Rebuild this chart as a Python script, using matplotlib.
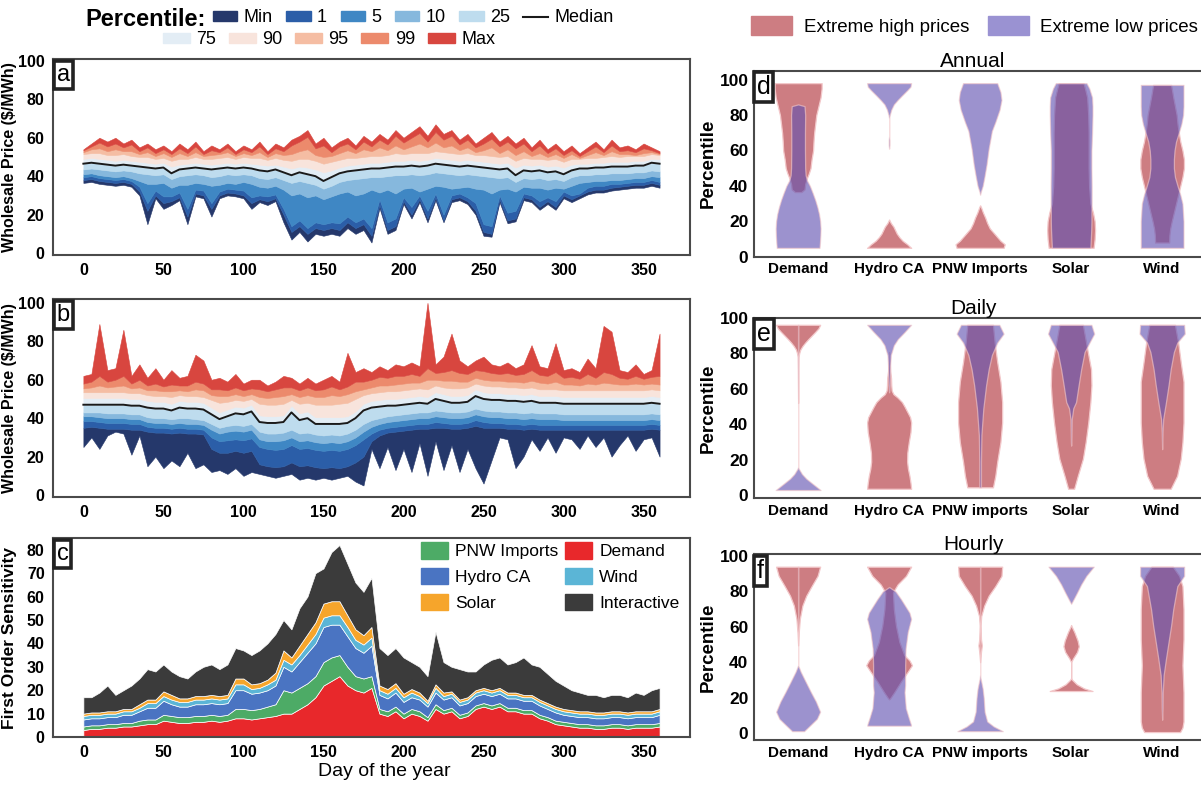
import numpy as np
import matplotlib.pyplot as plt
from matplotlib.patches import Patch
from matplotlib.lines import Line2D

SANS = ['Liberation Sans', 'DejaVu Sans']
plt.rcParams['font.family'] = SANS

# ---------------- data: daily price percentiles (sampled every 5 days) ----------------
days = np.arange(0, 361, 5)

a_max = [54, 57, 60, 58, 60, 57, 59, 55, 57, 54,
         56, 53, 57, 54, 58, 53, 56, 54, 57, 53,
         56, 54, 58, 53, 57, 55, 59, 61, 64, 57,
         60, 55, 58, 60, 56, 61, 58, 62, 59, 64,
         60, 63, 66, 61, 67, 62, 64, 59, 62, 57,
         60, 63, 58, 61, 57, 60, 55, 59, 54, 57,
         53, 56, 52, 55, 58, 54, 59, 55, 56, 54,
         57, 55, 53]
a_99 = [53.5, 55.5, 57.5, 55.5, 57, 55, 56.5, 53, 55, 52,
        54, 51.5, 54.5, 52, 55.5, 51.5, 53.5, 52.5, 55, 51.5,
        54, 52.5, 55.5, 51.5, 54.5, 53, 56, 58, 60.5, 54.5,
        56, 52.5, 55.5, 57, 54, 58, 55.5, 59, 56.5, 61,
        57.5, 60, 62.5, 58, 63, 59, 61, 56.5, 59, 55,
        57, 59.5, 55.5, 58, 54.5, 57, 53, 56, 52, 54.5,
        51, 53.5, 50.5, 53, 55.5, 52.5, 56, 53, 53.5, 52.5,
        54.5, 53.5, 52]
a_95 = [52.5, 54, 54.5, 53, 54, 53, 53, 51.5, 52.5, 50.5,
        52, 50, 52, 50.5, 52.5, 50.5, 51, 51.5, 52.5, 50.5,
        52, 51, 52.5, 50, 52, 51, 51.5, 53, 54, 51,
        50, 50.5, 52, 53.5, 52, 54, 53, 55, 53.5, 56,
        54, 55.5, 57, 55, 57.5, 55, 56, 53.5, 55, 52.5,
        53.5, 55, 52, 54, 51, 53, 50.5, 52, 50, 51.5,
        49.5, 51.5, 49.5, 51, 52.5, 51, 53, 51.5, 51.5, 51,
        52, 52.5, 51.5]
a_90 = [51.5, 52, 52, 51, 51, 51.5, 50.5, 50, 50, 49,
        49.5, 48, 49, 49, 50, 49, 49, 49.5, 50, 49,
        50, 49.5, 49.5, 48.5, 49.5, 48.5, 48, 49, 49, 48,
        46.5, 47.5, 48.5, 49.5, 49.5, 50, 50.5, 50.5, 51, 52,
        51.5, 52, 52, 52, 53, 52.5, 52, 51.5, 52, 51,
        51, 50.5, 50, 50.5, 48, 49.5, 49, 49, 48.5, 49,
        47.5, 49, 49, 49.5, 49.5, 50, 50.5, 50, 50.5, 50.5,
        50.5, 51.5, 51]
a_75 = [49, 49.5, 49, 48.5, 48, 48.5, 48, 47.5, 47, 46.5,
        47, 45, 46, 46.5, 47, 46.5, 46, 46.5, 47, 46.5,
        47, 46.5, 46, 45.5, 46, 45, 44, 45, 44.5, 43.5,
        42, 43, 44.5, 45.5, 46, 46.5, 47, 47, 47.5, 48,
        48, 48.5, 48, 48.5, 49.5, 49, 48.5, 48, 48.5, 48,
        47.5, 47, 46.5, 47, 44.5, 46, 45.5, 46, 45, 45.5,
        44.5, 46, 46.5, 46.5, 47, 47, 47.5, 47.5, 47.5, 48,
        48, 49, 49]
a_med = [46.5, 47, 46.5, 46, 45.5, 46, 45.5, 45, 44.5, 44,
         44.5, 41.5, 43.5, 44, 44.5, 44, 43.5, 44, 44.5, 44,
         44.5, 44, 43, 42.5, 43.5, 42, 40.5, 42, 41, 40,
         37.5, 39.5, 41.5, 42.5, 43, 43.5, 44, 44, 44.5, 45,
         45, 45.5, 45, 45.5, 46.5, 46, 45.5, 45, 45.5, 45,
         44.5, 44, 43.5, 44, 40.5, 43, 42.5, 43, 42, 42.5,
         41, 43, 44, 44, 44.5, 44.5, 45, 45, 45, 45.5,
         45.5, 47, 46.5]
a_25 = [43.5, 44, 43.5, 43, 42.5, 43, 42.5, 41.5, 41, 40.5,
        41, 38.5, 40, 40.5, 41, 40.5, 39.5, 40, 41, 40.5,
        41, 40.5, 39, 38.5, 39.5, 38, 36.5, 37.5, 36.5, 35.5,
        33.5, 35, 37, 38, 38.5, 39, 39.5, 39.5, 40, 40.5,
        40.5, 41, 40.5, 41, 42, 41.5, 41, 40.5, 41, 40.5,
        40, 39.5, 39, 39.5, 37, 39, 38.5, 39, 38, 38.5,
        37.5, 39.5, 40.5, 40.5, 41, 41, 41.5, 41.5, 41.5, 42,
        42, 43, 42.5]
a_10 = [41, 41.5, 40.5, 40, 39.5, 40, 39, 37.5, 36, 36,
        36.5, 34, 35.5, 35.5, 36.5, 36, 35, 35.5, 36.5, 36,
        37, 36, 34.5, 34, 35, 33, 30, 31, 29, 30,
        28, 29.5, 31, 32, 30, 31, 33, 31.5, 33, 31,
        33.5, 34, 32, 33.5, 35, 34.5, 33.5, 34, 34.5, 33.5,
        33, 31, 33, 33.5, 32, 34.5, 34, 34, 33, 34,
        33.5, 35, 36.5, 37, 37.5, 37.5, 38, 38, 38.5, 39,
        39, 40, 39.5]
a_5 = [39.5, 40, 39, 38.5, 38, 38.5, 37.5, 34.5, 26, 32.5,
       29.5, 29.5, 31.5, 23, 33, 32.5, 26, 32, 33.5, 33,
       32.5, 29, 30, 29.5, 30.5, 23, 14, 17, 13, 16,
       15, 16, 15.5, 19, 16, 18,
       13, 28, 16, 18, 29, 24, 30, 22, 31, 20, 30, 31, 29, 26,
       15, 14, 30, 21, 22, 31, 30, 27, 29, 27, 32, 30, 31,
       34, 35, 35, 36, 36, 36.5, 37, 37, 38, 37]
a_1 = [38, 38.5, 37.5, 37, 36.5, 37, 36, 32, 22, 30,
       26, 27, 29, 19, 31, 30, 23, 30, 31.5, 31,
       30, 26, 28, 27, 28.5, 20, 11, 14, 10, 13,
       12, 13, 12, 16, 13, 15,
       9, 25, 12, 14, 27, 20, 28, 18, 29, 17, 28, 29, 27, 22,
       11, 10, 28, 17, 18, 29, 28, 24, 27, 24, 30, 28, 30,
       32, 33, 33, 34, 34.5, 35, 35.5, 35.5, 36.5, 35.5]
a_min = [36.5, 37, 36, 35.5, 35, 35.5, 34.5, 30, 15, 28.5,
         23, 25, 27.5, 15, 29.5, 28.5, 19, 28.5, 30, 29.5,
         28.5, 23, 26.5, 25, 27, 16, 7, 11, 6, 10,
         9, 10, 9, 13, 10, 12,
         5.5, 23.5, 10, 12, 25.5, 18, 26.5, 16, 27.5, 16, 26.5, 27.5, 25.5, 20,
         9, 8.5, 26.5, 15.5, 16.5, 27.5, 26.5, 22.5, 25.5, 22.5, 28.5, 26.5, 28.5,
         30.5, 31.5, 31.5, 32.5, 33, 33.5, 34, 34, 35, 34]

b_max = [62, 63, 89, 65, 66, 86, 62, 68, 61, 66,
         60, 65, 61, 62, 73, 70, 60, 61, 59, 63,
         58, 60, 60, 57, 59, 62, 61, 58, 61, 58,
         60, 62, 59, 74, 64, 66, 64, 67, 65, 68,
         67, 69, 67, 100, 68, 72, 84, 70, 67, 70,
         72, 68, 67, 69, 66, 68, 78, 67, 66, 79,
         65, 66, 64, 71, 66, 88, 85, 65, 64, 68,
         63, 65, 84]
b_99 = [58, 59, 62, 59, 60, 62, 58, 60, 57, 58,
        56.5, 57.5, 57, 57, 59, 58, 55, 55, 54.5, 56,
        54.5, 55.5, 55, 54, 55, 56, 56, 54.5, 56, 54.5,
        55, 56.5, 55, 56.5, 59, 59, 60, 61.5, 61, 62,
        62, 63, 62, 66, 63.5, 64, 65, 63.5, 63, 65,
        64.5, 63.5, 63, 63.5, 62.5, 63, 65, 62.5, 62, 64,
        61, 61.5, 60.5, 63, 61, 64, 63, 61, 60.5, 62,
        60.5, 61.5, 62]
b_95 = [55.5, 56, 57, 56, 56.5, 57, 55.5, 56, 54.5, 54.5,
        54, 54, 54.5, 54, 55, 54.5, 52, 51.5, 51.5, 52.5,
        51.5, 52.5, 51, 50.5, 51, 51.5, 52.5, 51, 52, 51,
        51, 52, 51.5, 52.5, 54, 55, 56, 57, 57, 57.5,
        58, 58.5, 58.5, 60, 60, 59.5, 59.5, 59, 59, 61,
        60, 59.5, 59.5, 59, 59, 58.5, 59.5, 58.5, 58, 59,
        57.5, 57.5, 57, 58, 57.5, 58.5, 58, 57.5, 57.5, 58,
        57.5, 58, 57.5]
b_90 = [53.5, 53.5, 53.5, 53.5, 53.5, 53.5, 53, 53, 52, 51.5,
        51.5, 51, 52, 51.5, 51.5, 51, 49.5, 48, 48.5, 49.5,
        49, 50, 47.5, 47, 47, 47.5, 49.5, 47.5, 48, 47,
        47, 47, 47.5, 48, 50, 52, 53, 53.5, 54, 54,
        54.5, 55, 55.5, 55, 57, 56, 55.5, 55.5, 56, 58,
        57, 56.5, 56.5, 56, 56, 55.5, 56, 55, 55, 55,
        54.5, 54.5, 54.5, 54.5, 54.5, 54.5, 54.5, 54.5, 54.5, 54.5,
        54.5, 55, 54.5]
b_75 = [50.5, 50.5, 50.5, 50.5, 50.5, 50.5, 50, 50, 49, 48.5,
        48.5, 47.5, 49, 48.5, 48.5, 48, 45.5, 43, 44.5, 46,
        45.5, 47, 41.5, 41, 41, 41.5, 46.5, 42.5, 43.5, 40.5,
        40.5, 40.5, 40.5, 41, 43.5, 47.5, 49, 49.5, 50, 50,
        50.5, 51, 51.5, 51, 53.5, 52.5, 51.5, 51.5, 52, 55,
        53.5, 53, 53, 52.5, 52.5, 52, 52.5, 51.5, 51.5, 51.5,
        51, 51, 51, 51, 51, 51, 51, 51, 51, 51,
        51, 51.5, 51]
b_med = [47, 47, 47, 47, 47, 47, 46.5, 46.5, 45.5, 45,
         45, 44, 45.5, 45, 45, 44.5, 42, 39.5, 41, 42.5,
         42, 43.5, 38, 37.5, 37.5, 38, 43, 39, 40, 37,
         37, 37, 37, 37.5, 40, 44, 45.5, 46, 46.5, 46.5,
         47, 47.5, 48, 47.5, 50, 49, 48, 48, 48.5, 51.5,
         50, 49.5, 49.5, 49, 49, 48.5, 49, 48, 48, 48,
         47.5, 47.5, 47.5, 47.5, 47.5, 47.5, 47.5, 47.5, 47.5, 47.5,
         47.5, 48, 47.5]
b_25 = [43, 43, 43, 42.5, 42.5, 42.5, 42, 42, 40.5, 40,
        40, 39.5, 40, 40, 39.5, 39, 37, 35, 36, 36.5,
        36, 37, 33, 32, 32, 32.5, 34, 32, 32.5, 31.5,
        31, 31.5, 31, 32, 34, 37, 39, 40, 41, 41.5,
        42, 42.5, 43, 43, 44, 43.5, 43, 43, 43.5, 45,
        44, 43.5, 43.5, 43, 43, 42.5, 43, 42.5, 42.5, 42.5,
        42, 42, 42, 42, 42, 42, 42, 42, 42, 42,
        42, 42.5, 42]
b_10 = [41, 41, 40.5, 40, 40, 40, 39.5, 39.5, 38, 37.5,
        37.5, 37, 37.5, 37, 37, 36.5, 34, 32, 33, 33.5,
        33, 34, 29, 28, 28, 28.5, 30, 28, 28.5, 27.5,
        27, 27.5, 27, 28, 30, 33, 35.5, 37, 38, 38.5,
        39, 39.5, 40, 40, 41, 40.5, 40, 40, 40.5, 42,
        41, 40.5, 40.5, 40, 40, 39.5, 40, 39.5, 39.5, 39.5,
        39, 39, 39, 39, 39, 39, 39, 39, 39, 39,
        39, 39.5, 39]
b_5 = [38.5, 38.5, 38, 37.5, 37.5, 37.5, 37, 37, 35.5, 35,
       35, 34.5, 35, 34.5, 34.5, 34, 30, 28, 28.5, 29,
       28.5, 29.5, 25, 24, 23.5, 24, 26, 24, 24.5, 23.5,
       23, 23.5, 23, 24, 26, 29, 32, 34, 35, 35.5,
       36, 36.5, 37, 37, 38, 37.5, 37, 37, 37.5, 39,
       38, 37.5, 37.5, 37, 37, 36.5, 37, 36.5, 36.5, 36.5,
       36.5, 36.5, 36.5, 36.5, 36.5, 36.5, 36.5, 36.5, 36.5, 36.5,
       36.5, 37, 36.5]
b_1 = [35, 35.5, 35, 34.5, 34.5, 34.5, 34, 34, 33, 32.5,
       32.5, 32, 32.5, 32, 32, 31.5, 24, 22, 22, 23,
       22, 23, 16, 15, 14.5, 15, 17, 15, 15.5, 14.5,
       14, 14.5, 14, 15, 17, 20, 28, 31, 32.5, 33,
       33.5, 34, 34.5, 34.5, 35, 35, 34.5, 34.5, 35, 36,
       35, 35, 35, 34.5, 34.5, 34, 34.5, 34, 34, 34,
       34, 34, 34, 34, 34, 34, 34, 34, 34, 34,
       34, 34.5, 34]
b_min = [25, 30, 24, 31, 33, 32, 21, 31, 15, 20,
         14, 18, 15, 22, 14, 16, 12, 13, 11, 14,
         10, 12, 11, 10, 9, 10, 11, 8, 9, 8,
         9, 8, 9, 10, 7, 5, 24, 14, 25, 13,
         24, 12, 27, 10, 28, 13, 26, 12, 24, 14,
         6, 18, 30, 29, 14, 20, 29, 23, 30, 22,
         30, 29, 24, 31, 25, 30, 20, 26, 31, 23,
         29, 30, 20]

# first order sensitivity per driver
sens_demand = [3, 3.5, 3.5, 4, 4, 4.5, 4.5, 5, 5.5, 5.5,
               7, 6.5, 6, 6, 6.5, 6.5, 7, 6.5, 7, 8,
               8, 7.5, 8, 8.5, 9, 10, 10, 12, 14, 17,
               22, 24, 26, 22, 20, 19, 21, 10, 9, 11,
               8, 10, 9, 7, 12, 10, 11, 8, 9, 12,
               13, 12, 13, 11, 11, 10, 10, 8, 7, 5.5,
               5, 4.5, 4, 4, 3.5, 3.5, 4, 4, 3.5, 4,
               4, 4, 4.5]
sens_pnw = [1.5, 1.5, 1.5, 1.5, 1.5, 1.5, 1.5, 2, 2, 2,
            2.5, 2.5, 2.5, 2.5, 2.5, 2.5, 2.5, 2.5, 2.5, 4,
            4, 4, 4, 4.5, 5, 10, 9, 9, 9, 9,
            10, 10, 9, 8, 6, 6, 5, 2, 2, 2,
            2, 2, 2, 1.5, 2, 1.5, 1.5, 1.5, 1.5, 1.5,
            1.5, 1.5, 1.5, 1.5, 1.5, 1.5, 1.5, 1.5, 1.5, 1.5,
            1.5, 1.5, 1.5, 1.5, 1.5, 1.5, 1.5, 1.5, 1.5, 1.5,
            1.5, 1.5, 1.5]
sens_hydro = [3, 3, 3, 3, 3, 3.5, 3.5, 4, 5, 5,
              6, 5, 4.5, 4.5, 5, 5, 5, 5, 5, 8,
              8, 7, 7, 7, 8, 10, 9, 11, 13, 14,
              15, 14, 13, 13, 12, 11, 13, 6, 5.5, 6,
              5, 5, 5, 4.5, 5, 4.5, 4.5, 4, 4, 4,
              4, 4, 4, 4, 4, 4, 4, 4, 3.5, 3.5,
              3, 3, 3, 3, 3, 3, 3, 3, 3, 3,
              3, 3, 3.5]
sens_wind = [1.5, 1.5, 1.5, 1.5, 1.5, 1.5, 1.5, 1.5, 2, 2,
             2, 2, 2, 2, 2, 2, 2, 2, 2, 2.5,
             2.5, 2, 2, 2.5, 2.5, 3, 3, 3, 3.5, 4,
             4, 4, 4, 4, 3.5, 3.5, 3.5, 2, 2, 2,
             2, 2, 1.5, 1.5, 2, 1.5, 1.5, 1.5, 1.5, 1.5,
             1.5, 1.5, 1.5, 1.5, 1.5, 1.5, 1.5, 1.5, 1.5, 1.5,
             1.5, 1.5, 1.5, 1.5, 1.5, 1.5, 1.5, 1.5, 1.5, 1.5,
             1.5, 1.5, 1.5]
sens_solar = [1, 1, 1, 1, 1, 1, 1, 1.5, 1.5, 1.5,
              2, 2, 1.5, 1.5, 1.5, 1.5, 1.5, 1.5, 1.5, 2.5,
              2.5, 2, 2, 2, 3, 4, 3, 4, 4.5, 5,
              6, 6, 6, 5, 4.5, 4, 4.5, 2, 2, 2,
              1.5, 1.5, 1.5, 1, 1.5, 1.5, 1, 1, 1, 1,
              1, 1, 1, 1, 1, 1, 1, 1, 1, 1,
              1, 1, 1, 1, 1, 1, 1, 1, 1, 1,
              1, 1, 1]
sens_interactive = [7, 6.5, 8.5, 11, 7, 8, 10, 11, 13, 12,
                    11.5, 10, 9.5, 8.5, 10.5, 12.5, 13, 11.5, 13, 13,
                    12, 12.5, 14, 15.5, 16.5, 13, 12, 16, 16, 21,
                    15, 21, 24, 22, 20, 18.5, 21, 16, 14.5, 15,
                    15.5, 11.5, 11, 10.5, 22.5, 13, 10.5, 13, 11, 8,
                    10, 13, 13, 12, 13, 16, 13, 14, 12.5, 11,
                    10, 8.5, 8, 7, 7.5, 6.5, 7, 7, 6.5, 8,
                    7, 9, 9]

# ---------------- violin profiles: (percentile levels, relative half-widths) ----------------
drivers = ['Demand', 'Hydro CA', 'PNW Imports', 'Solar', 'Wind']

annual_high = {
    'Demand': ([36.5, 38, 41, 44, 47, 50, 55, 60, 65, 70, 75, 80, 85, 90, 95, 98],
               [0.15, 0.3, 0.33, 0.4, 0.5, 0.58, 0.63, 0.7, 0.72, 0.75, 0.8, 0.85, 0.95, 1.05, 1.1, 1.1]),
    'Hydro CA': ([5, 7, 9, 11, 13, 15, 17, 19, 21],
                 [1.03, 0.85, 0.63, 0.48, 0.36, 0.28, 0.2, 0.08, 0.0]),
    'PNW Imports': ([5, 7, 9, 12.5, 16, 19, 22, 25, 28, 29],
                    [1.1, 1.15, 0.95, 0.7, 0.45, 0.33, 0.24, 0.13, 0.04, 0.0]),
    'Solar': ([5, 10, 15, 20, 25, 30, 40, 50, 60, 70, 80, 90, 95, 98],
              [1.05, 1.1, 1.12, 1.1, 1.02, 0.9, 0.84, 0.82, 0.82, 0.82, 0.8, 0.75, 0.65, 0.58]),
    'Wind': ([8, 12, 16, 20, 25, 30, 35, 40, 45, 50, 55, 60, 65, 70, 75, 80, 85, 90, 95, 97],
             [0.33, 0.34, 0.38, 0.45, 0.55, 0.65, 0.75, 0.85, 0.95, 1.02, 1.02, 0.95, 0.85, 0.78,
              0.72, 0.68, 0.6, 0.52, 0.45, 0.42]),
}
annual_low = {
    'Demand': ([5, 8, 12, 16, 20, 24, 28, 32, 36, 40, 43, 46, 50, 60, 70, 80, 85, 86],
               [1.0, 1.02, 1.04, 1.05, 1.03, 0.98, 0.9, 0.8, 0.68, 0.55, 0.42, 0.35, 0.33, 0.32,
                0.32, 0.33, 0.3, 0.0]),
    'Hydro CA': ([61, 63, 66, 68, 72, 78, 80, 83, 86, 88.5, 91, 94, 96, 98],
                 [0, 0.02, 0.02, 0, 0, 0, 0.03, 0.1, 0.22, 0.4, 0.6, 0.85, 1.0, 1.03]),
    'PNW Imports': ([35, 37, 40, 45, 52, 61, 71, 76, 83, 88.5, 93, 98],
                    [0, 0.04, 0.12, 0.2, 0.3, 0.4, 0.55, 0.71, 0.91, 1.0, 0.95, 0.8]),
    'Solar': ([5, 10, 15, 20, 25, 30, 40, 50, 60, 70, 80, 85, 90, 95, 98],
              [0.9, 0.92, 0.94, 0.95, 0.95, 0.96, 0.96, 0.95, 0.95, 0.98, 1.0, 1.0, 0.98, 0.85, 0.72]),
    'Wind': ([5, 10, 20, 30, 35, 40, 45, 50, 55, 60, 65, 70, 75, 80, 85, 90, 97],
             [1.0, 1.0, 1.0, 0.95, 0.85, 0.72, 0.6, 0.55, 0.55, 0.58, 0.65, 0.78, 0.9, 0.98, 1.0,
              1.0, 1.0]),
}
daily_high = {
    'Demand': ([52, 60, 70, 78, 80, 82, 84, 86, 88, 90, 92, 94, 96],
               [0, 0.005, 0.01, 0.02, 0.05, 0.1, 0.2, 0.33, 0.48, 0.64, 0.8, 0.95, 1.03]),
    'Hydro CA': ([3.7, 7, 11, 15, 19, 24, 30, 35.6, 41, 44, 47, 50, 52.5, 55, 57, 59, 62, 66, 70,
                  75, 80.7],
                 [1.03, 1.0, 0.95, 0.88, 0.84, 0.85, 0.92, 1.0, 1.03, 0.98, 0.85, 0.72, 0.6, 0.4,
                  0.2, 0.12, 0.1, 0.09, 0.05, 0.03, 0]),
    'PNW Imports': ([4.5, 11, 19, 30, 41, 52.5, 64, 75, 86, 96],
                    [0.6, 0.71, 0.8, 0.95, 1.03, 1.03, 0.95, 0.8, 0.68, 0.6]),
    'Solar': ([3.7, 11, 20.6, 30, 41, 52.5, 62, 71, 80.7, 86, 96],
              [0.14, 0.31, 0.55, 0.68, 0.8, 0.9, 0.95, 0.93, 0.78, 0.7, 0.55]),
    'Wind': ([3.7, 11, 20.6, 30, 41, 52.5, 64, 75, 86, 96],
             [0.4, 0.7, 0.87, 0.95, 1.0, 1.0, 1.0, 0.87, 0.75, 0.6]),
}
daily_low = {
    'Demand': ([3, 6.6, 9.4, 12, 15, 16, 30, 50, 70, 90, 96],
               [1.05, 0.67, 0.38, 0.18, 0.03, 0, 0, 0, 0.005, 0.005, 0.005]),
    'Hydro CA': ([58, 62, 67, 73, 79, 84.5, 88, 92, 96],
                 [0, 0.03, 0.04, 0.05, 0.08, 0.22, 0.41, 0.73, 1.03]),
    'PNW Imports': ([4.5, 19, 34, 49, 62, 71, 79, 86, 91, 96],
                    [0.04, 0.04, 0.06, 0.15, 0.28, 0.4, 0.55, 0.8, 1.1, 0.9]),
    'Solar': ([28, 30, 43, 49, 52.5, 62, 71, 80.7, 86, 91, 96],
              [0, 0.01, 0.03, 0.1, 0.23, 0.35, 0.47, 0.63, 0.86, 1.08, 0.95]),
    'Wind': ([26, 35.6, 43, 52.5, 62, 71, 80.7, 86, 91, 96],
             [0, 0.02, 0.05, 0.18, 0.3, 0.4, 0.55, 0.71, 1.06, 1.03]),
}
hourly_high = {
    'Demand': ([49.5, 57, 64.5, 72, 77.6, 83, 88.8, 94],
               [0, 0.03, 0.08, 0.2, 0.38, 0.63, 0.91, 1.03]),
    'Hydro CA': ([19, 19.6, 23, 29, 34.6, 38.3, 41, 44, 51.4, 60.7, 70, 79.4, 82, 84, 88.8, 94],
                 [0, 0.05, 0.24, 0.55, 0.87, 1.07, 0.95, 0.71, 0.48, 0.32, 0.22, 0.18, 0.3, 0.4,
                  0.79, 1.03]),
    'PNW Imports': ([40, 45.8, 49.5, 53, 60.7, 66, 72, 77.6, 83, 88.8, 94],
                    [0, 0.04, 0.08, 0.04, 0.02, 0.05, 0.19, 0.4, 0.71, 1.0, 1.03]),
    'Solar': ([23.7, 25.2, 27.5, 30, 31, 40, 42, 45.8, 49, 52.3, 57, 59.8, 61],
              [1.0, 0.6, 0.26, 0.05, 0, 0, 0.08, 0.28, 0.36, 0.3, 0.15, 0.04, 0]),
    'Wind': ([0.5, 3, 6.5, 23, 38.3, 53, 70, 83, 88.8, 94],
             [0.84, 0.95, 1.0, 1.0, 0.95, 1.0, 1.0, 0.95, 0.8, 0.5]),
}
hourly_low = {
    'Demand': ([1, 4.7, 8, 12, 17.8, 23, 29, 34.6, 38.3, 60, 94],
               [0.28, 0.6, 0.88, 1.03, 0.83, 0.6, 0.35, 0.12, 0, 0, 0.005]),
    'Hydro CA': ([4.1, 4.7, 8.4, 14, 23, 27, 38.3, 47.7, 57, 64.5, 68, 75.7, 80, 82.5],
                 [1.02, 1.02, 0.92, 0.78, 0.72, 0.75, 0.75, 0.77, 0.87, 1.03, 0.95, 0.55, 0.3, 0.0]),
    'PNW Imports': ([1, 3.7, 6.5, 12, 19.6, 25, 31, 33, 70, 94],
                    [1.06, 0.63, 0.33, 0.21, 0.17, 0.12, 0.02, 0, 0, 0.005]),
    'Solar': ([73, 75.7, 79.4, 84, 88.8, 94],
              [0, 0.12, 0.28, 0.47, 0.71, 1.06]),
    'Wind': ([7.5, 14, 23, 32.7, 42, 51.4, 60.7, 70, 83, 88.8, 94],
             [0, 0.02, 0.03, 0.07, 0.18, 0.3, 0.42, 0.52, 0.71, 1.03, 1.03]),
}

# ---------------- styling ----------------
pct_colors = {'Min': '#25386b', '1': '#2b5ea8', '5': '#3f87c4', '10': '#86b8dd', '25': '#bedcee',
              '75': '#e3edf5', '90': '#f8e4dc', '95': '#f5bda3', '99': '#ec8a6c', 'Max': '#d8463f'}
sens_colors = ['#e8282b', '#4dab66', '#4a74c2', '#5bb5d6', '#f6a52b', '#3b3b3b']
HIGH = '#cd7d82'
LOW = '#6050b0'
LOW_ALPHA = 0.62
EDGE = '#f3c8ca'
HALF = 0.235
SPINE = '#4a4a4a'

fig = plt.figure(figsize=(12.01, 7.86), dpi=100)


def style_axes(ax):
    for sp in ax.spines.values():
        sp.set_color(SPINE)
        sp.set_linewidth(1.5)
    ax.tick_params(length=0)
    for lab in ax.get_xticklabels() + ax.get_yticklabels():
        lab.set_fontweight('bold')


def panel_tag(ax, letter, fs=17):
    ax.text(0.006, 0.975, letter, transform=ax.transAxes, ha='left', va='top', fontsize=fs,
            zorder=10, bbox=dict(boxstyle='square,pad=0.12', fc='white', ec='#222222', lw=2.6))


def price_panel(ax, lows, med, highs):
    # bands between neighbouring percentiles, coloured by the outer one
    lo_names = ['Min', '1', '5', '10', '25']
    for k in range(len(lows)):
        upper = lows[k + 1] if k + 1 < len(lows) else med
        c = pct_colors[lo_names[k]]
        ax.fill_between(days, lows[k], upper, color=c, lw=0.4, edgecolor=c)
    hi_names = ['75', '90', '95', '99', 'Max']
    lower = med
    for k in range(len(highs)):
        c = pct_colors[hi_names[k]]
        ax.fill_between(days, lower, highs[k], color=c, lw=0.4, edgecolor=c)
        lower = highs[k]
    ax.plot(days, med, color='#1a1a1a', lw=1.4)
    ax.set_xlim(-19, 379)
    ax.set_xticks(range(0, 351, 50))
    ax.set_yticks(range(0, 101, 20))
    ax.tick_params(labelsize=11.5, pad=6)
    ax.set_ylabel('Wholesale Price ($/MWh)', fontsize=11.5, fontweight='bold')
    ax.yaxis.set_label_coords(-0.056, 0.5)
    style_axes(ax)


ax_a = fig.add_axes([0.0441, 0.6756, 0.5304, 0.2494])
price_panel(ax_a, [a_min, a_1, a_5, a_10, a_25], a_med, [a_75, a_90, a_95, a_99, a_max])
ax_a.set_ylim(-1, 101)
panel_tag(ax_a, 'a')

ax_b = fig.add_axes([0.0441, 0.3677, 0.5304, 0.2519])
price_panel(ax_b, [b_min, b_1, b_5, b_10, b_25], b_med, [b_75, b_90, b_95, b_99, b_max])
ax_b.set_ylim(-1, 102)
panel_tag(ax_b, 'b')

# ---------------- panel c: stacked sensitivities ----------------
ax_c = fig.add_axes([0.0441, 0.0623, 0.5304, 0.2532])
ax_c.stackplot(days, sens_demand, sens_pnw, sens_hydro, sens_wind, sens_solar,
               sens_interactive, colors=sens_colors, edgecolor='white', linewidth=0.5)
ax_c.set_xlim(-19, 379)
ax_c.set_ylim(0, 85)
ax_c.set_xticks(range(0, 351, 50))
ax_c.set_yticks(range(0, 81, 10))
ax_c.tick_params(labelsize=11.5, pad=6)
ax_c.set_ylabel('First Order Sensitivity', fontsize=12.5, fontweight='bold')
ax_c.yaxis.set_label_coords(-0.056, 0.5)
ax_c.set_xlabel('Day of the year', fontsize=14, labelpad=3)
ax_c.xaxis.set_label_coords(0.52, -0.13)
style_axes(ax_c)
panel_tag(ax_c, 'c')
names = ['Demand', 'PNW Imports', 'Hydro CA', 'Wind', 'Solar', 'Interactive']
order = [1, 2, 4, 0, 3, 5]
ax_c.legend([Patch(color=sens_colors[i]) for i in order], [names[i] for i in order],
            ncol=2, loc='upper right', bbox_to_anchor=(1.0, 1.03), frameon=False,
            fontsize=12.5, handlelength=1.55, handleheight=1.05, handletextpad=0.4,
            columnspacing=0.4, labelspacing=0.5, borderaxespad=0.2)

# ---------------- violin panels ----------------


def violin_panel(rect, high, low, title, tag, labels, ylim):
    ax = fig.add_axes(rect)
    for i, key in enumerate(drivers):
        y, w = high[key]
        w = np.array(w) * HALF
        ax.fill_betweenx(y, i - w, i + w, facecolor=HIGH, edgecolor=EDGE, lw=0.9)
    for i, key in enumerate(drivers):
        y, w = low[key]
        w = np.array(w) * HALF
        ax.fill_betweenx(y, i - w, i + w, facecolor=LOW, edgecolor=EDGE, lw=0.9,
                         alpha=LOW_ALPHA)
    ax.set_xlim(-0.485, 4.53)
    ax.set_ylim(*ylim)
    ax.set_xticks(range(5))
    ax.set_xticklabels(labels)
    ax.set_yticks(range(0, 101, 20))
    ax.tick_params(axis='y', labelsize=12.5, pad=4)
    ax.tick_params(axis='x', labelsize=11, pad=4)
    ax.spines['right'].set_visible(False)
    ax.set_ylabel('Percentile', fontsize=13.5, fontweight='bold')
    ax.yaxis.set_label_coords(-0.082, 0.5)
    ax.set_title(title, fontsize=15, x=0.48, pad=3)
    style_axes(ax)
    panel_tag(ax, tag, fs=18)
    return ax


labels_d = ['Demand', 'Hydro CA', 'PNW Imports', 'Solar', 'Wind']
labels_ef = ['Demand', 'Hydro CA', 'PNW imports', 'Solar', 'Wind']
violin_panel([0.6278, 0.6734, 0.38, 0.2366], annual_high, annual_low, 'Annual', 'd', labels_d, (0, 105))
violin_panel([0.6278, 0.3664, 0.38, 0.2294], daily_high, daily_low, 'Daily', 'e', labels_ef, (-1.5, 100))
violin_panel([0.6278, 0.0585, 0.38, 0.2363], hourly_high, hourly_low, 'Hourly', 'f', labels_ef, (-4, 101))

# ---------------- legends along the top ----------------
fig.text(85 / 1201, 1 - 19 / 786, 'Percentile:', fontsize=17, fontweight='bold', va='center')
row1 = [Patch(color=pct_colors[k]) for k in ['Min', '1', '5', '10', '25']]
row1.append(Line2D([], [], color='#1a1a1a', lw=1.5))
fig.legend(row1, ['Min', '1', '5', '10', '25', 'Median'], ncol=6, loc='center left',
           bbox_to_anchor=(213 / 1201, 1 - 18 / 786), frameon=False, fontsize=13,
           handlelength=1.35, handleheight=0.5, handletextpad=0.35, columnspacing=0.75,
           borderaxespad=0, borderpad=0)
row2 = [Patch(color=pct_colors[k]) for k in ['75', '90', '95', '99', 'Max']]
fig.legend(row2, ['75', '90', '95', '99', 'Max'], ncol=5, loc='center left',
           bbox_to_anchor=(163 / 1201, 1 - 40 / 786), frameon=False, fontsize=13,
           handlelength=1.5, handleheight=0.5, handletextpad=0.35, columnspacing=0.7,
           borderaxespad=0, borderpad=0)

fig.legend([Patch(color=HIGH), Patch(color='#9a92d2')],
           ['Extreme high prices', 'Extreme low prices'], ncol=2, loc='center left',
           bbox_to_anchor=(751 / 1201, 1 - 26 / 786), frameon=False, fontsize=13.5,
           handlelength=2.2, handleheight=1.2, handletextpad=0.6, columnspacing=1.0,
           borderaxespad=0, borderpad=0)

fig.savefig('out.png', dpi=100)
